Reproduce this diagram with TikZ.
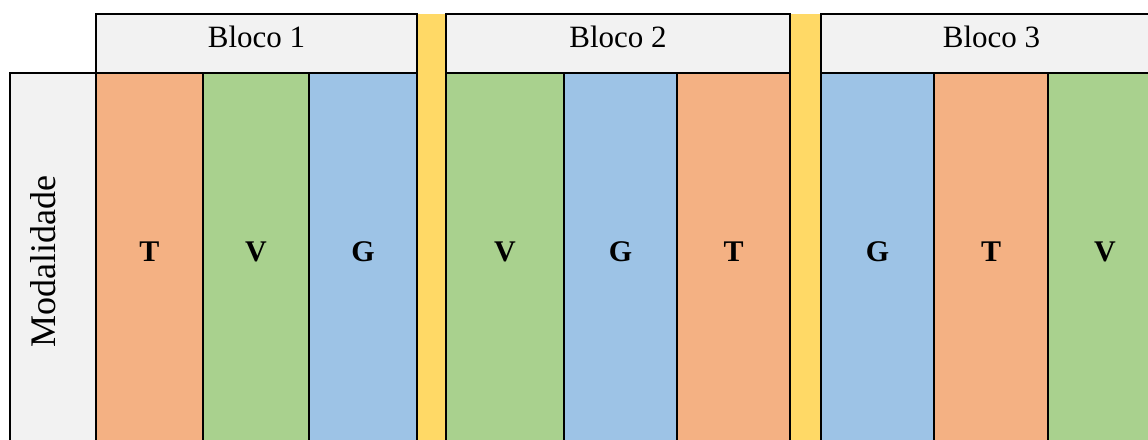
\documentclass[tikz,border=0pt]{standalone}
\usepackage{fontspec}
\setmainfont{Liberation Serif}
\definecolor{cT}{HTML}{F4B183}
\definecolor{cV}{HTML}{A9D18E}
\definecolor{cG}{HTML}{9DC3E6}
\definecolor{cY}{HTML}{FFD966}
\definecolor{cH}{HTML}{F2F2F2}
\begin{document}
\begin{tikzpicture}[x=1pt,y=-1pt,
  box/.style={draw=black, line width=2.6pt, rectangle, inner sep=0pt, outer sep=0pt, anchor=north west},
  lbl/.style={font=\fontsize{30}{36}\selectfont\bfseries, inner sep=0pt},
  hlbl/.style={font=\fontsize{31}{37}\selectfont, inner sep=0pt},
  sep/.style={fill=cY, draw=none, rectangle, inner sep=0pt, outer sep=0pt, anchor=north west},
  sepline/.style={draw=black, line width=1.3pt}]
\useasboundingbox (0,0) rectangle (1148,439);
\clip (0,0) rectangle (1148,439);
% Modalidade
\node[box, fill=cH, minimum width=86, minimum height=390] (mod) at (10,73) {};
\node[font=\fontsize{36}{42}\selectfont, rotate=90, inner sep=0pt] (modl) at (43.3,261.5) {Modalidade};
% headers
\node[box, fill=cH, minimum width=321, minimum height=59] (h1) at (96,14) {};
\node[box, fill=cH, minimum width=344, minimum height=59] (h2) at (446,14) {};
\node[box, fill=cH, minimum width=345, minimum height=59] (h3) at (821,14) {};
\node[hlbl] (h1l) at (256.5,36.5) {Bloco 1};
\node[hlbl] (h2l) at (618,36.5) {Bloco 2};
\node[hlbl] (h3l) at (991.5,36.5) {Bloco 3};
% block 1
\node[box, fill=cT, minimum width=107, minimum height=390] (c11) at (96,73) {};
\node[box, fill=cV, minimum width=106, minimum height=390] (c12) at (203,73) {};
\node[box, fill=cG, minimum width=108, minimum height=390] (c13) at (309,73) {};
% block 2
\node[box, fill=cV, minimum width=118, minimum height=390] (c21) at (446,73) {};
\node[box, fill=cG, minimum width=113, minimum height=390] (c22) at (564,73) {};
\node[box, fill=cT, minimum width=113, minimum height=390] (c23) at (677,73) {};
% block 3
\node[box, fill=cG, minimum width=113, minimum height=390] (c31) at (821,73) {};
\node[box, fill=cT, minimum width=114, minimum height=390] (c32) at (934,73) {};
\node[box, fill=cV, minimum width=114, minimum height=390] (c33) at (1048,73) {};
% letters
\node[lbl] (l11) at (149.5,252) {T};
\node[lbl] (l12) at (256,252) {V};
\node[lbl] (l13) at (363,252) {G};
\node[lbl] (l21) at (505,252) {V};
\node[lbl] (l22) at (620.5,252) {G};
\node[lbl] (l23) at (733.5,252) {T};
\node[lbl] (l31) at (877.5,252) {G};
\node[lbl] (l32) at (991,252) {T};
\node[lbl] (l33) at (1105,252) {V};
% separators
\node[sep, minimum width=29, minimum height=440] (s1) at (417,14) {};
\node[sep, minimum width=31, minimum height=440] (s2) at (790,14) {};
\draw[sepline] (s1.north west) -- (s1.south west);
\draw[sepline] (s1.north east) -- (s1.south east);
\draw[sepline] (s2.north west) -- (s2.south west);
\draw[sepline] (s2.north east) -- (s2.south east);
\end{tikzpicture}
\end{document}
